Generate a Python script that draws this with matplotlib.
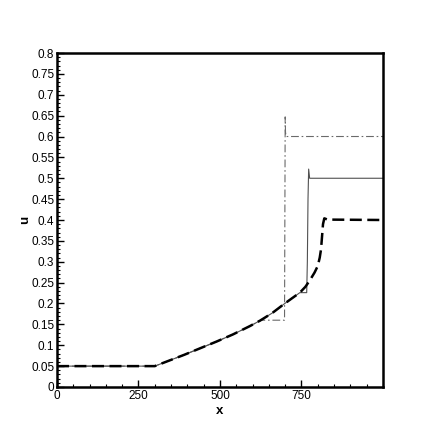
import matplotlib
matplotlib.use("Agg")
import matplotlib.pyplot as plt
from matplotlib.ticker import MultipleLocator

# Data (x, u)
x_curve = [0, 300, 350, 390, 440, 490, 540, 592, 623, 660, 697]
u_curve = [0.05, 0.05, 0.065, 0.077, 0.093, 0.109, 0.126, 0.146, 0.159, 0.177, 0.199]

x_dashed = x_curve + [720, 745, 762, 776, 790, 800, 806, 810, 813, 816, 820, 830, 1000]
u_dashed = u_curve + [0.212, 0.226, 0.24, 0.256, 0.274, 0.29, 0.31, 0.33, 0.36, 0.39, 0.404, 0.401, 0.40]

x_solid = x_curve + [720, 745, 766, 768, 770, 772, 775, 1000]
u_solid = u_curve + [0.212, 0.226, 0.226, 0.30, 0.45, 0.522, 0.50, 0.50]

x_dashdot = x_curve[:-2] + [628, 698, 699, 700, 701, 703, 1000]
u_dashdot = u_curve[:-2] + [0.16, 0.16, 0.40, 0.647, 0.61, 0.60, 0.60]

plt.rcParams.update({
    "font.family": ["Liberation Sans", "DejaVu Sans"],
    "font.size": 8.5,
})

fig = plt.figure(figsize=(4.36, 4.36), dpi=100)
ax = fig.add_axes([0.1307, 0.1124, 0.7477, 0.766])

ax.plot(x_dashdot, u_dashdot, color="#6a6a6a", linewidth=0.8, linestyle=(0, (7, 2.5, 1.5, 2.5)))
ax.plot(x_solid, u_solid, color="#505050", linewidth=0.8)
ax.plot(x_dashed, u_dashed, color="black", linewidth=1.8, linestyle=(0, (4.8, 2.2)))

ax.set_xlim(0, 1000)
ax.set_ylim(0, 0.8)
ax.xaxis.set_minor_locator(MultipleLocator(50))
ax.yaxis.set_minor_locator(MultipleLocator(0.01))
ax.set_xticks([0, 250, 500, 750])
ax.set_xticklabels(["0", "250", "500", "750"])
yt = [round(i * 0.05, 2) for i in range(17)]
ax.set_yticks(yt)
ax.set_yticklabels([f"{v:g}" for v in yt])

ax.tick_params(which="both", direction="in", top=False, right=False, pad=2)
ax.tick_params(which="major", length=5, width=1.0)
ax.tick_params(which="minor", length=2.5, width=0.8)
for s in ax.spines.values():
    s.set_linewidth(1.8)

ax.set_xlabel("x", fontweight="bold", fontsize=9.5, labelpad=2)
ax.set_ylabel("u", fontweight="bold", fontsize=9.5, labelpad=0)

fig.savefig("out.png", dpi=100, facecolor="white")
